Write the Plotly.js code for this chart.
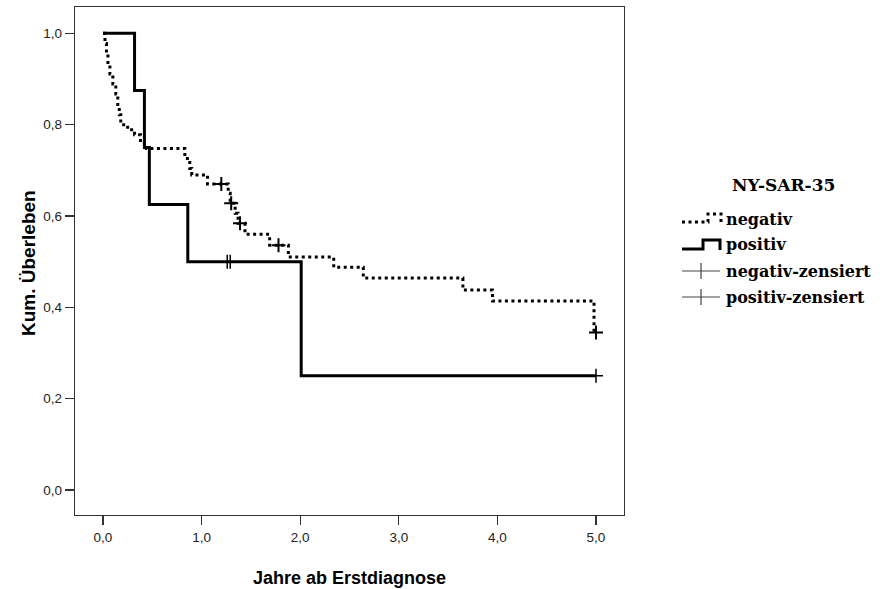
<!DOCTYPE html>
<html>
<head>
<meta charset="utf-8">
<script src="https://cdn.plot.ly/plotly-3.0.1.min.js"></script>
<style>html,body{margin:0;padding:0;background:#fff;}#chart{width:887px;height:589px;}</style>
</head>
<body>
<div id="chart"></div>
<script>
// ---- data ----
const negTimes = [0, 0.02, 0.035, 0.05, 0.07, 0.10, 0.13, 0.15, 0.165, 0.18, 0.25, 0.32, 0.38, 0.44, 0.83, 0.88, 0.90, 1.06, 1.27, 1.29, 1.34, 1.37, 1.44, 1.69, 1.88, 2.34, 2.64, 3.65, 3.95, 4.98, 5.0];
const negSurv  = [1.0, 0.978, 0.956, 0.933, 0.911, 0.889, 0.867, 0.844, 0.822, 0.80, 0.789, 0.778, 0.760, 0.748, 0.726, 0.704, 0.690, 0.670, 0.650, 0.628, 0.606, 0.584, 0.560, 0.536, 0.510, 0.488, 0.464, 0.438, 0.414, 0.345, 0.345];
const negCensTimes = [1.20, 1.30, 1.39, 1.78, 5.0];
const negCensSurv  = [0.670, 0.628, 0.584, 0.536, 0.345];

const posTimes = [0, 0.32, 0.42, 0.47, 0.86, 2.01, 5.0];
const posSurv  = [1.0, 0.875, 0.75, 0.625, 0.5, 0.25, 0.25];
const posCensTimes = [1.26, 1.29, 5.0];
const posCensSurv  = [0.5, 0.5, 0.25];

const yTicks = [0, 0.2, 0.4, 0.6, 0.8, 1.0];
const xTicks = [0, 1, 2, 3, 4, 5];

const xTitle = 'Jahre ab Erstdiagnose';
const yTitle = 'Kum. Überleben';
const legendTitle = 'NY-SAR-35';
const legendLabels = ['negativ', 'positiv', 'negativ-zensiert', 'positiv-zensiert'];

// ---- layout geometry ----
const W = 887, H = 589;
const L = 75, R = 624, T = 7, B = 515;
const pw = R - L, ph = B - T;
const px = x => (x - L) / pw;
const py = y => (B - y) / ph;

const traces = [
  {x: negTimes, y: negSurv, mode: 'lines', line: {shape: 'hv', color: '#000', width: 3, dash: '3px,3.5px'}, hoverinfo: 'x+y'},
  {x: posTimes, y: posSurv, mode: 'lines', line: {shape: 'hv', color: '#000', width: 3}, hoverinfo: 'x+y'},
  {x: negCensTimes, y: negCensSurv, mode: 'markers', marker: {symbol: 'cross-thin', size: 10, line: {width: 2, color: '#000'}}},
  {x: posCensTimes, y: posCensSurv, mode: 'markers', marker: {symbol: 'cross-thin', size: 10, line: {width: 1.5, color: '#000'}}}
];

const sans = 'Liberation Sans, Arial, sans-serif';
const legendFont = {family: 'DejaVu Serif', size: 16, color: '#000'};
const rowsY = [219, 245, 271, 297];
const txtX = 724;

const annotations = [
  {xref: 'paper', yref: 'paper', x: px(783), y: py(185), xanchor: 'center', yanchor: 'middle',
   text: '<b>' + legendTitle + '</b>', showarrow: false, font: {family: 'DejaVu Serif', size: 17, color: '#000'}},
  {xref: 'paper', yref: 'paper', x: px(349), y: py(578), xanchor: 'center', yanchor: 'middle',
   text: '<b>' + xTitle + '</b>', showarrow: false, font: {family: sans, size: 18, color: '#000'}},
  {xref: 'paper', yref: 'paper', x: px(28), y: py(263), xanchor: 'center', yanchor: 'middle', textangle: -90,
   text: '<b>' + yTitle + '</b>', showarrow: false, font: {family: sans, size: 19, color: '#000'}}
];
legendLabels.forEach((lab, i) => {
  annotations.push({xref: 'paper', yref: 'paper', x: px(txtX), y: py(rowsY[i]), xanchor: 'left', yanchor: 'middle',
    text: '<b>' + lab + '</b>', showarrow: false, font: legendFont});
});

function pathPx(pts) {
  return pts.map((p, i) => (i ? 'L' : 'M') + px(p[0]).toFixed(5) + ',' + py(p[1]).toFixed(5)).join(' ');
}
const shapes = [
  {type: 'path', xref: 'paper', yref: 'paper', path: pathPx([[682, rowsY[0]+3], [708, rowsY[0]+3], [708, rowsY[0]-5], [721, rowsY[0]-5], [721, rowsY[0]+3]]),
   line: {color: '#000', width: 3, dash: '3px,3.5px'}},
  {type: 'path', xref: 'paper', yref: 'paper', path: pathPx([[682, rowsY[1]+4], [703, rowsY[1]+4], [703, rowsY[1]-5], [720, rowsY[1]-5], [720, rowsY[1]+5]]),
   line: {color: '#000', width: 3}},
  {type: 'line', xref: 'paper', yref: 'paper', x0: px(682), x1: px(720), y0: py(rowsY[2]), y1: py(rowsY[2]), line: {color: '#444', width: 1.2}},
  {type: 'line', xref: 'paper', yref: 'paper', x0: px(701), x1: px(701), y0: py(rowsY[2]-8), y1: py(rowsY[2]+8), line: {color: '#444', width: 1.2}},
  {type: 'line', xref: 'paper', yref: 'paper', x0: px(682), x1: px(720), y0: py(rowsY[3]), y1: py(rowsY[3]), line: {color: '#444', width: 1.2}},
  {type: 'line', xref: 'paper', yref: 'paper', x0: px(701), x1: px(701), y0: py(rowsY[3]-8), y1: py(rowsY[3]+8), line: {color: '#444', width: 1.2}}
];

const axisCommon = {
  showgrid: false, zeroline: false, showline: true, mirror: true, linecolor: '#333', linewidth: 1.3,
  ticks: 'outside', ticklen: 9, tickwidth: 1.3, tickcolor: '#333',
  tickfont: {family: sans, size: 13.5, color: '#222'},
  tickformat: '.1f', fixedrange: true
};

const layout = {
  width: W, height: H,
  margin: {l: L, r: W - R, t: T, b: H - B},
  paper_bgcolor: '#fff', plot_bgcolor: '#fff',
  separators: ',.',
  showlegend: false,
  xaxis: Object.assign({}, axisCommon, {range: [-0.284, 5.284], tickvals: xTicks}),
  yaxis: Object.assign({}, axisCommon, {range: [-0.0548, 1.0577], tickvals: yTicks}),
  annotations: annotations,
  shapes: shapes
};

Plotly.newPlot('chart', traces, layout, {displayModeBar: false, staticPlot: true});
</script>
</body>
</html>
